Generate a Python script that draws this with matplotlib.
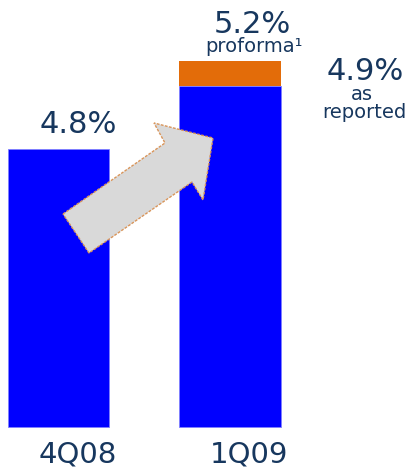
import matplotlib.pyplot as plt
from matplotlib.patches import Polygon

# chart is schematic (not to scale): drawn heights kept apart from the labels
quarters = ['4Q08', '1Q09']
reported_height = [278, 341]
proforma_extra = [0, 25]
value_labels = ['4.8%', '5.2%']
reported_label = '4.9%'

blue = '#0000FF'
orange = '#E36C09'
navy = '#17375E'


def main():
    fig = plt.figure(figsize=(4.10, 4.68), dpi=100)
    ax = fig.add_axes([0, 0, 1, 1])
    x = [0, 1]

    ax.bar(x, reported_height, width=0.59, color=blue, edgecolor='#8080ff', linewidth=0.6)
    ax.bar(x, proforma_extra, width=0.59, bottom=reported_height, color=orange, linewidth=0)

    ax.set_xlim(-0.341, 2.05)
    ax.set_ylim(-41, 427)
    ax.axis('off')

    # labels above bars
    ax.text(0.114, reported_height[0] + 16, value_labels[0], ha='center', va='baseline',
            fontsize=22, color=navy)
    top2 = reported_height[1] + proforma_extra[1]
    ax.text(1.128, top2 + 28, value_labels[1], ha='center', va='baseline',
            fontsize=22, color=navy)
    ax.text(1.14, top2 + 9, 'proforma\u00b9', ha='center', va='baseline',
            fontsize=14, color=navy)
    ax.text(1.79, reported_height[1] + 6, reported_label, ha='center', va='baseline',
            fontsize=22, color=navy)
    ax.text(1.77, reported_height[1] - 14, 'as', ha='center', va='baseline',
            fontsize=14, color=navy)
    ax.text(1.785, reported_height[1] - 32, 'reported', ha='center', va='baseline',
            fontsize=14, color=navy)

    for xi, q in zip(x, quarters):
        ax.text(xi + 0.11, -35, q, ha='center', va='baseline', fontsize=21, color=navy)

    # growth arrow, in pixel positions of the figure
    pts = [(63, 214), (165, 143), (154, 123), (213, 138), (203, 200), (192, 182), (89, 253)]
    pts = [(px / 410, 1 - py / 468) for px, py in pts]
    arrow = Polygon(pts, closed=True, transform=fig.transFigure, facecolor='#D9D9D9',
                    edgecolor='#D9955A', linewidth=1.0, linestyle=(0, (2, 1)), zorder=5)
    fig.patches.append(arrow)

    plt.savefig('out.png', dpi=100)


if __name__ == "__main__":
    main()
